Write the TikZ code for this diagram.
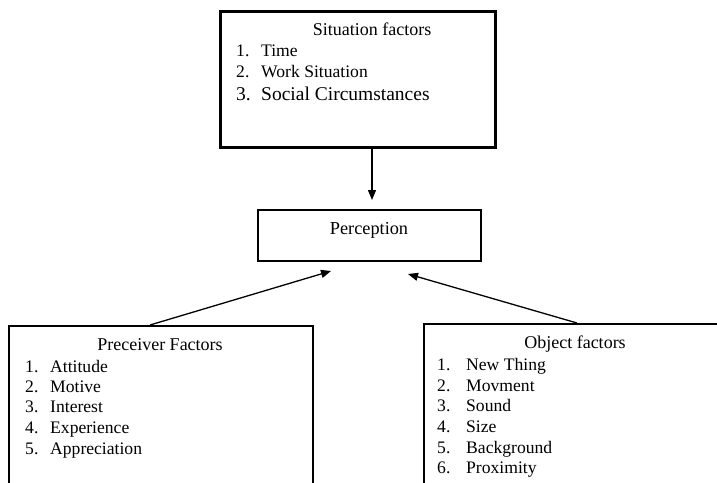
\documentclass[tikz,border=0pt]{standalone}
\usepackage{fontspec}
\setmainfont{Liberation Serif}
\usetikzlibrary{arrows.meta}
\begin{document}
\begin{tikzpicture}[x=1pt,y=-1pt,
  box/.style={draw=black,line width=2.2pt,inner sep=0pt,anchor=north west},
  lbl/.style={inner sep=0pt,anchor=base west,font=\fontsize{17.6}{20}\selectfont},
  ttl/.style={inner sep=0pt,anchor=base,font=\fontsize{18}{20}\selectfont},
  conn/.style={line width=1.3pt,-{Triangle[length=10pt,width=8pt]}}]
\useasboundingbox (0,0) rectangle (717,482);
\clip (0,0) rectangle (717,482);
% boxes
\node[box,line width=2.8pt,minimum width=275pt,minimum height=136pt] (sit) at (219,10) {};
\node[box,minimum width=223pt,minimum height=51pt] (per) at (257,209) {};
\node[box,minimum width=304pt,minimum height=200pt] (pre) at (8,325) {};
\node[box,minimum width=310pt,minimum height=200pt] (obj) at (423,323) {};
% situation text
\node[ttl] (sitt) at (372,35) {Situation factors};
\node[lbl] (s1n) at (236,56) {1.};
\node[lbl] (s1) at (261,56) {Time};
\node[lbl] (s2n) at (236,77) {2.};
\node[lbl] (s2) at (261,77) {Work Situation};
\node[lbl,font=\fontsize{19.5}{22}\selectfont] (s3n) at (236,100) {3.};
\node[lbl,font=\fontsize{19.5}{22}\selectfont] (s3) at (261,100) {Social Circumstances};
% perception
\node[ttl,font=\fontsize{18.3}{20}\selectfont] (pert) at (369,234) {Perception};
% preceiver
\node[ttl] (pret) at (160,350) {Preceiver Factors};
\node[lbl] (p1n) at (25,372) {1.};
\node[lbl] (p1) at (50,372) {Attitude};
\node[lbl] (p2n) at (25,392) {2.};
\node[lbl] (p2) at (50,392) {Motive};
\node[lbl] (p3n) at (25,412) {3.};
\node[lbl] (p3) at (50,412) {Interest};
\node[lbl] (p4n) at (25,433) {4.};
\node[lbl] (p4) at (50,433) {Experience};
\node[lbl] (p5n) at (25,454) {5.};
\node[lbl] (p5) at (50,454) {Appreciation};
% object
\node[ttl] (objt) at (575,348) {Object factors};
\node[lbl] (o1n) at (437,370) {1.};
\node[lbl] (o1) at (466,370) {New Thing};
\node[lbl] (o2n) at (437,391) {2.};
\node[lbl] (o2) at (466,391) {Movment};
\node[lbl] (o3n) at (437,411) {3.};
\node[lbl] (o3) at (466,411) {Sound};
\node[lbl] (o4n) at (437,432) {4.};
\node[lbl] (o4) at (466,432) {Size};
\node[lbl] (o5n) at (437,453) {5.};
\node[lbl] (o5) at (466,453) {Background};
\node[lbl] (o6n) at (437,473) {6.};
\node[lbl] (o6) at (466,473) {Proximity};
% connectors
\coordinate (sa) at (372,146);
\coordinate (sb) at (372,200);
\coordinate (pa) at (150,325);
\coordinate (pb) at (331,271);
\coordinate (oa) at (577,323);
\coordinate (ob) at (408,274);
\draw[conn] (sa) -- (sb);
\draw[conn] (pa) -- (pb);
\draw[conn] (oa) -- (ob);
\end{tikzpicture}
\end{document}
